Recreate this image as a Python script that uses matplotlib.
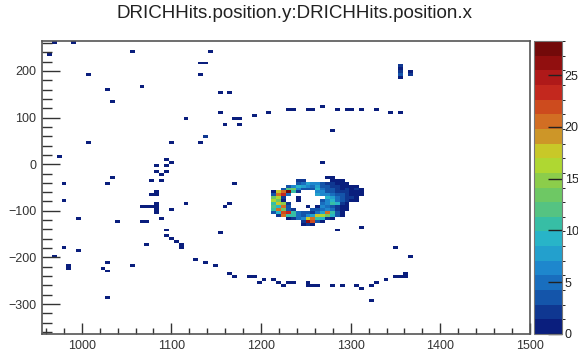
import numpy as np
import matplotlib
matplotlib.use("Agg")
import matplotlib.pyplot as plt
from matplotlib.colors import ListedColormap, BoundaryNorm

plt.rcParams['font.family'] = ['Liberation Sans', 'DejaVu Sans']

# ---------------- data ----------------
title = "DRICHHits.position.y:DRICHHits.position.x"
x_range = (955.7, 1500.0)
y_range = (-364.0, 264.0)
n_bins = 100
z_max = 28.3
n_levels = 20
x_ticks = [1000, 1100, 1200, 1300, 1400, 1500]
y_ticks = [-300, -200, -100, 0, 100, 200]
z_ticks = [0, 5, 10, 15, 20, 25]

# isolated hits (x, y, counts)
hit_x = [967.6, 993.3, 963.0, 1059.0, 1005.6, 1029.0, 1064.7, 1034.6, 1118.3, 1005.6,
         1100.4, 1130.6, 1130.0, 1136.0, 1130.6, 1142.9, 1155.0, 1167.4, 1155.0, 1160.7,
         1172.0, 1178.0, 1178.6, 1190.8, 1208.7, 1231.0, 1237.0, 1251.0, 1257.8, 1269.0,
         1286.8, 1297.0, 1302.0, 1310.0, 1329.0, 1346.0, 1358.0, 1136.0, 1281.0, 1269.0,
         974.0, 1095.0, 1101.6, 1086.0, 1092.0, 1083.7, 1088.0, 1095.0, 1034.6, 978.8,
         1029.0, 1077.0, 1089.0, 981.0, 998.9, 1041.0, 1071.4, 1089.0, 1100.0, 1118.0,
         1095.0, 1095.0, 1100.0, 1107.0, 1113.0, 1113.0, 982.0, 999.0, 1071.0, 967.6,
         1129.5, 987.7, 987.7, 1029.0, 1023.4, 1029.0, 1059.0, 1029.0, 1173.0, 1161.8,
         1167.4, 1155.0, 1136.0, 1149.6, 1167.4, 1173.0, 1187.5, 1193.0, 1196.4, 1204.0,
         1215.4, 1221.0, 1226.6, 1232.0, 1238.0, 1251.0, 1251.0, 1255.5, 1261.0, 1282.0,
         1288.0, 1304.7, 1310.0, 1322.5, 1329.0, 1322.5, 1286.8, 1310.0, 1352.7, 1365.0,
         1351.0, 1357.0, 1362.0, 1360.0, 1340.0,
         1358.0, 1358.0, 1358.0, 1358.0, 1358.0, 1364.0, 1364.0,
         1084.0, 1084.0, 1078.0, 1084.0, 1084.0, 1084.0, 1084.0, 1078.0, 1073.0, 1068.0,
         1070.0]
hit_y = [260.0, 260.0, 233.0, 245.0, 191.0, 161.0, 166.0, 138.0, 95.0, 47.6,
         47.6, 47.6, 215.7, 215.7, 191.0, 239.0, 155.0, 155.0, 108.0, 88.0,
         95.0, 95.0, 88.0, 101.0, 108.0, 114.0, 114.0, 114.0, 119.0, 125.0,
         119.0, 119.0, 119.0, 114.0, 114.0, 108.0, 108.0, 59.0, 71.0, 4.7,
         16.0, 11.0, 4.7, -1.7, -1.7, -12.4, -19.0, -12.4, -29.6, -42.5,
         -42.5, -36.0, -36.0, -80.5, -115.5, -122.0, -122.0, -115.5, -96.0, -85.0,
         -139.0, -152.0, -158.0, -169.0, -172.0, -178.0, -181.0, -188.0, -175.5, -199.0,
         -203.0, -217.0, -224.0, -212.0, -224.0, -231.0, -218.5, -284.0, -37.5, -91.0,
         -85.0, -145.0, -212.0, -218.5, -236.0, -242.0, -243.6, -243.6, -254.0, -246.0,
         -246.0, -254.0, -259.0, -254.0, -254.0, -263.0, -255.0, -259.0, -259.0, -259.0,
         -259.0, -259.0, -264.0, -259.0, -253.0, -289.0, -139.0, -134.0, -181.0, -199.0,
         -240.0, -240.0, -240.0, -235.6, -246.0,
         213.0, 207.0, 200.0, 194.0, 188.0, 200.0, 194.0,
         -62.0, -68.0, -68.0, -84.0, -90.0, -96.0, -103.0, -90.0, -90.0, -90.0,
         -121.0]
hit_n = [1, 1, 1, 1, 1, 1, 1, 1, 1, 1,
         1, 1, 1, 1, 1, 1, 1, 1, 1, 1,
         1, 1, 1, 1, 1, 1, 1, 1, 1, 1,
         1, 1, 1, 1, 1, 1, 1, 2, 1, 1,
         1, 1, 1, 1, 1, 1, 1, 1, 1, 1,
         1, 1, 1, 1, 1, 1, 1, 1, 1, 1,
         1, 1, 1, 1, 1, 1, 1, 1, 1, 1,
         1, 1, 1, 1, 1, 1, 1, 1, 1, 1,
         1, 1, 1, 1, 1, 1, 1, 1, 1, 1,
         1, 1, 1, 1, 1, 1, 1, 1, 1, 1,
         1, 1, 1, 1, 1, 1, 1, 1, 1, 1,
         1, 1, 1, 1, 1,
         2, 1, 2, 3, 1, 1, 2,
         1, 1, 1, 1, 1, 1, 1, 1, 1, 1,
         1]

# Cherenkov ring: bin-center coordinates and counts (rows from top to bottom)
ring_x = [1214.5, 1219.9, 1225.4, 1230.8, 1236.3, 1241.7, 1247.2, 1252.6, 1258.1, 1263.5,
          1269.0, 1274.4, 1279.9, 1285.3, 1290.8, 1296.2, 1301.7, 1307.1, 1312.6]
ring_y = [-28.0, -34.3, -40.6, -46.9, -53.1, -59.4, -65.7, -72.0, -78.3, -84.5,
          -90.8, -97.1, -103.4, -109.7, -115.9, -122.2, -128.5]
ring_counts = [
    [0, 0, 0, 0, 0, 0, 0, 0, 0, 0, 0, 1, 1, 0, 0, 0, 0, 0, 0],
    [0, 0, 0, 0, 0, 2, 2, 0, 0, 0, 0, 0, 1, 1, 1, 0, 0, 0, 0],
    [0, 0, 0, 0, 0, 3, 5, 8, 7, 6, 4, 2, 2, 1, 1, 1, 0, 0, 0],
    [0, 0, 0, 3, 6, 9, 8, 6, 5, 8, 4, 3, 2, 2, 1, 1, 1, 1, 0],
    [0, 0, 4, 12, 14, 6, 4, 3, 3, 9, 5, 4, 3, 2, 1, 2, 1, 2, 1],
    [1, 18, 21, 27, 10, 2, 0, 0, 0, 7, 6, 4, 3, 2, 2, 2, 1, 1, 1],
    [3, 20, 24, 5, 0, 0, 0, 0, 0, 8, 7, 6, 5, 4, 3, 2, 1, 1, 1],
    [14, 16, 2, 0, 0, 1, 0, 0, 0, 0, 0, 9, 8, 5, 4, 2, 2, 1, 0],
    [16, 13, 1, 0, 0, 1, 0, 0, 0, 0, 3, 6, 9, 5, 3, 2, 1, 1, 0],
    [10, 17, 15, 2, 0, 0, 0, 0, 0, 0, 5, 6, 10, 9, 2, 1, 0, 0, 0],
    [12, 9, 20, 3, 0, 0, 0, 1, 0, 1, 6, 5, 4, 2, 1, 1, 0, 0, 0],
    [10, 20, 13, 4, 2, 0, 0, 0, 3, 4, 5, 6, 5, 2, 1, 1, 0, 0, 0],
    [3, 9, 22, 24, 10, 5, 4, 3, 2, 5, 8, 20, 11, 4, 1, 0, 0, 0, 0],
    [0, 2, 20, 11, 10, 5, 4, 6, 8, 17, 16, 13, 9, 3, 1, 0, 0, 0, 0],
    [0, 0, 0, 1, 2, 5, 6, 17, 20, 10, 9, 2, 1, 0, 0, 0, 0, 0, 0],
    [0, 0, 0, 0, 0, 0, 2, 26, 22, 3, 1, 0, 0, 0, 0, 0, 0, 0, 0],
    [0, 0, 0, 0, 0, 0, 1, 2, 1, 0, 0, 0, 0, 0, 0, 0, 0, 0, 0],
]

# ---------------- build histogram ----------------
rx, ry = np.meshgrid(ring_x, ring_y)
rc = np.array(ring_counts, dtype=float)
sel = rc > 0
all_x = np.concatenate([np.array(hit_x), rx[sel]])
all_y = np.concatenate([np.array(hit_y), ry[sel]])
all_w = np.concatenate([np.array(hit_n, dtype=float), rc[sel]])

H, xe, ye = np.histogram2d(all_x, all_y, bins=n_bins,
                           range=[list(x_range), list(y_range)], weights=all_w)
Hm = np.ma.masked_equal(H.T, 0)

band_colors = [
    (10, 30, 125), (15, 55, 145), (20, 85, 170), (25, 110, 190), (30, 135, 205),
    (35, 160, 205), (40, 180, 200), (55, 190, 165), (85, 195, 130), (110, 200, 100),
    (140, 205, 75), (175, 215, 50), (200, 200, 40), (205, 150, 40), (210, 110, 35),
    (205, 75, 30), (195, 40, 30), (175, 25, 25), (145, 15, 15), (115, 10, 10)]
cmap = ListedColormap([(r / 255, g / 255, b / 255) for r, g, b in band_colors])
levels = np.linspace(0, z_max, n_levels + 1)
norm = BoundaryNorm(levels, cmap.N)

# ---------------- figure ----------------
W, Hpx = 578, 355
fig = plt.figure(figsize=(W / 100, Hpx / 100), dpi=100)
ax = fig.add_axes([42 / W, 1 - 334 / Hpx, (530 - 42) / W, (334 - 41) / Hpx])
cax = fig.add_axes([534 / W, 1 - 334 / Hpx, 28 / W, (334 - 41) / Hpx])

ax.pcolormesh(xe, ye, Hm, cmap=cmap, norm=norm)
ax.set_xlim(*x_range)
ax.set_ylim(*y_range)

tick_col = '#333333'
ax.set_xticks(x_ticks)
ax.set_yticks(y_ticks)
ax.set_xticks(np.arange(960, 1501, 20), minor=True)
ax.set_yticks(np.arange(-360, 261, 20), minor=True)
ax.tick_params(axis='x', which='major', direction='in', length=8, width=1,
               labelsize=9, colors=tick_col, pad=4, top=False)
ax.tick_params(axis='x', which='minor', direction='in', length=4, width=1,
               colors=tick_col, top=False)
ax.tick_params(axis='y', which='major', direction='in', length=13, width=1,
               labelsize=9, colors=tick_col, pad=4, right=False)
ax.tick_params(axis='y', which='minor', direction='in', length=7, width=1,
               colors=tick_col, right=False)
for s in ax.spines.values():
    s.set_color('#555555')
    s.set_linewidth(1.2)

# colour bar
cb = fig.colorbar(ax.collections[0], cax=cax, boundaries=levels, ticks=z_ticks)
cb.outline.set_edgecolor('#777777')
cb.outline.set_linewidth(0.8)
cax.tick_params(direction='in', length=10, width=1, labelsize=9,
                colors='#222222', pad=2)
cax.yaxis.set_ticks_position('right')

fig.text(295 / W, 1 - 14 / Hpx, title, ha='center', va='center',
         fontsize=13.5, color='#222222')

fig.savefig('out.png', dpi=100)
